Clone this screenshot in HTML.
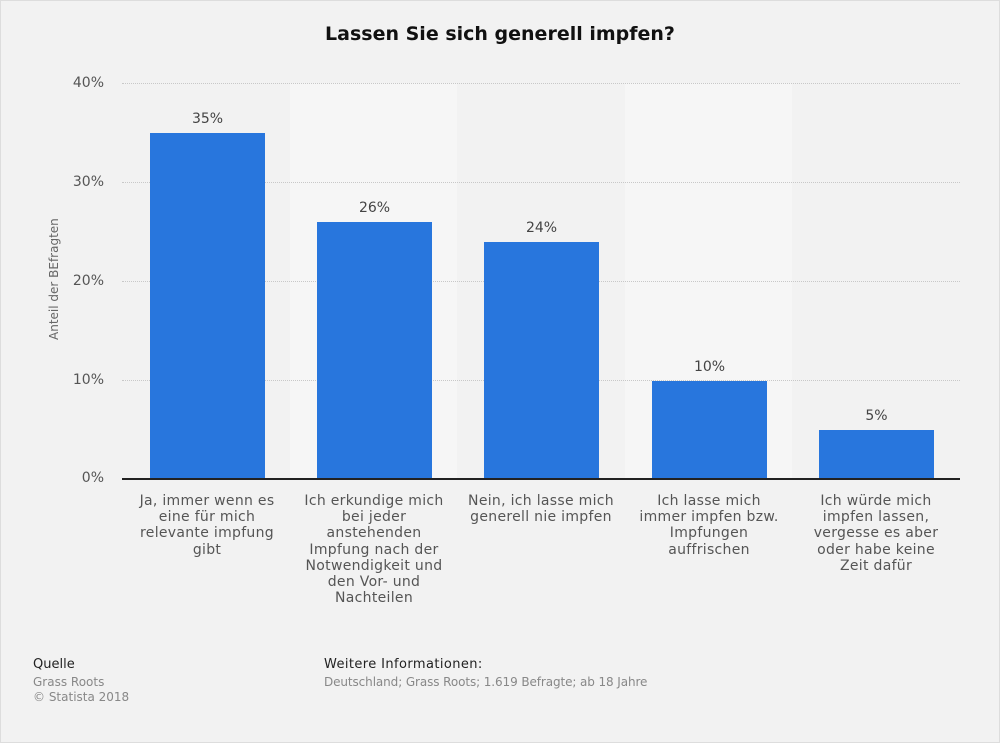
<!DOCTYPE html>
<html><head><meta charset="utf-8"><style>
body{margin:0;width:1000px;height:743px;background:#f2f2f2;font-family:"DejaVu Sans","Liberation Sans",sans-serif;overflow:hidden}
.frame{position:absolute;left:0;top:0;width:998px;height:741px;border:1px solid #ddd}
.t{position:absolute;white-space:nowrap}
.band{position:absolute;top:83px;height:395px;background:#f6f6f6}
.grid{position:absolute;left:122px;width:838px;border-top:1px dotted #c8c8c8}
.yl{position:absolute;left:40px;width:64px;text-align:right;font-size:14px;color:#555}
.bar{position:absolute;width:115px;background:#2876dd}
.val{position:absolute;width:115px;text-align:center;font-size:14px;color:#444}
.cat{position:absolute;top:493px;width:168px;text-align:center;font-size:14px;line-height:16.2px;color:#555;letter-spacing:0.3px}
</style></head><body>
<div class="frame"></div>
<div class="t" style="left:0;width:1000px;text-align:center;top:23px;font-size:19px;font-weight:bold;color:#111">Lassen Sie sich generell impfen?</div>
<div class="band" style="left:290px;width:167px"></div>
<div class="band" style="left:625px;width:167px"></div>
<div class="grid" style="top:83px"></div>
<div class="grid" style="top:182px"></div>
<div class="grid" style="top:281px"></div>
<div class="grid" style="top:380px"></div>
<div class="yl" style="top:75px">40%</div>
<div class="yl" style="top:174px">30%</div>
<div class="yl" style="top:273px">20%</div>
<div class="yl" style="top:372px">10%</div>
<div class="yl" style="top:470px">0%</div>
<div class="t" style="left:-6px;top:273px;transform:rotate(-90deg);transform-origin:center;font-size:12px;color:#666;width:120px;text-align:center">Anteil der BEfragten</div>
<div class="bar" style="left:150px;top:133px;height:345px"></div>
<div class="bar" style="left:317px;top:222px;height:256px"></div>
<div class="bar" style="left:484px;top:242px;height:236px"></div>
<div class="bar" style="left:652px;top:381px;height:97px"></div>
<div class="bar" style="left:819px;top:430px;height:48px"></div>
<div class="val" style="left:150px;top:111px">35%</div>
<div class="val" style="left:317px;top:200px">26%</div>
<div class="val" style="left:484px;top:220px">24%</div>
<div class="val" style="left:652px;top:359px">10%</div>
<div class="val" style="left:819px;top:408px">5%</div>
<div style="position:absolute;left:122px;top:478px;width:838px;border-top:2px solid #222"></div>
<div class="cat" style="left:123px">Ja, immer wenn es<br>eine für mich<br>relevante impfung<br>gibt</div>
<div class="cat" style="left:290px">Ich erkundige mich<br>bei jeder<br>anstehenden<br>Impfung nach der<br>Notwendigkeit und<br>den Vor- und<br>Nachteilen</div>
<div class="cat" style="left:457px">Nein, ich lasse mich<br>generell nie impfen</div>
<div class="cat" style="left:625px">Ich lasse mich<br>immer impfen bzw.<br>Impfungen<br>auffrischen</div>
<div class="cat" style="left:792px">Ich würde mich<br>impfen lassen,<br>vergesse es aber<br>oder habe keine<br>Zeit dafür</div>
<div class="t" style="left:33px;top:657px;font-size:13px;color:#222">Quelle</div>
<div class="t" style="left:33px;top:675px;font-size:12px;color:#888">Grass Roots</div>
<div class="t" style="left:33px;top:690px;font-size:12px;color:#888">© Statista 2018</div>
<div class="t" style="left:324px;top:657px;font-size:13px;color:#222;letter-spacing:0.4px">Weitere Informationen:</div>
<div class="t" style="left:324px;top:675px;font-size:12px;color:#888;letter-spacing:-0.1px">Deutschland; Grass Roots; 1.619 Befragte; ab 18 Jahre</div>
</body></html>
